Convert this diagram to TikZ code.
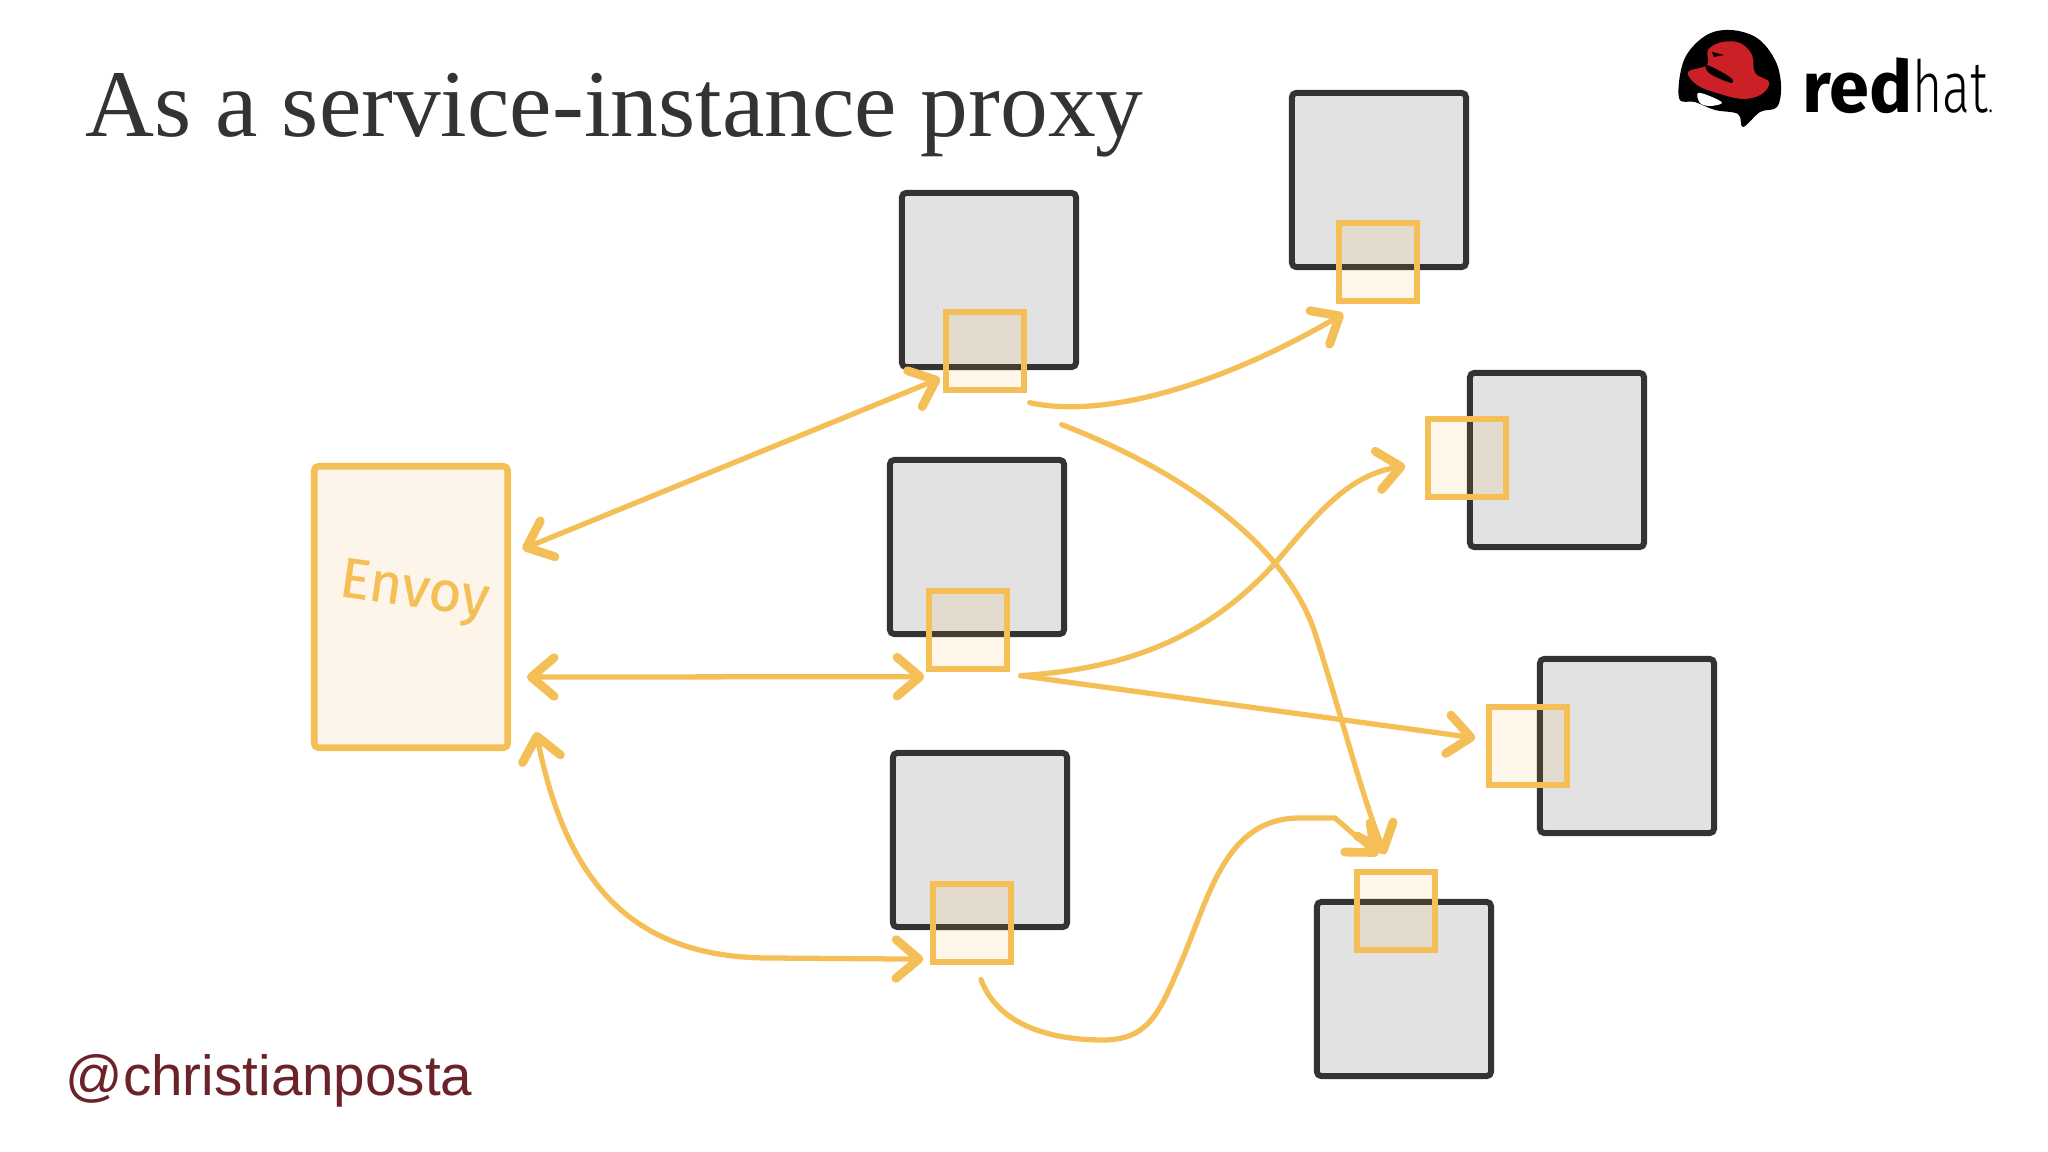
\documentclass[tikz,border=0pt]{standalone}
\usepackage{fontspec}
\usetikzlibrary{arrows.meta}
\setmainfont{Liberation Serif}
\newfontfamily\labelfont{Liberation Sans}
\newfontfamily\logofont{Fira Sans}
\newfontfamily\hatfont[FakeStretch=0.72]{Fira Sans Light}
\newfontfamily\envoyfont[FakeBold=0.6]{Fira Sans}
\definecolor{titlegray}{HTML}{333333}
\definecolor{handle}{HTML}{6B2228}
\definecolor{hatred}{HTML}{CC2027}
\definecolor{amber}{HTML}{F4BF57}
\definecolor{amberfill}{HTML}{FEF5EA}
\definecolor{svcgray}{HTML}{E2E2E2}
\definecolor{svcline}{HTML}{333333}
\tikzset{
  service/.style={draw=svcline,fill=svcgray,line width=1.7pt,rounded corners=1.2pt,minimum size=49.5pt,inner sep=0pt},
  proxy/.style={draw=amber,fill={rgb,255:red,245;green,165;blue,25},fill opacity=0.1,line width=1.7pt,minimum size=22pt,inner sep=0pt},
  flow/.style={draw=amber,line width=1.5pt,line cap=round,line join=round,>={Straight Barb[length=6.5pt,width=11pt,round,line width=2.5pt]}},
}
\begin{document}
\begin{tikzpicture}[x=0.01cm,y=-0.01cm]
\useasboundingbox (0,0) rectangle (2048,1152);
% heading and credit
\node[anchor=west,inner sep=0pt,text=titlegray,font=\fontsize{27.15}{30}\selectfont] (title) at (85,115) {As a service-instance proxy};
\node[anchor=west,inner sep=0pt,text=handle,font=\labelfont\fontsize{16.1}{20}\selectfont] (credit) at (65,1081) {@christianposta};
% logo
\fill[black] plot[smooth cycle,tension=0.6] coordinates {(1679,98) (1684,60) (1705,36) (1730,30) (1757,38) (1775,60) (1781,85) (1777,107) (1760,112) (1743,127) (1738,114) (1715,110) (1695,102)};
\fill[white] plot[smooth cycle,tension=0.6] coordinates {(1698,93) (1712,97) (1722,103) (1710,106) (1700,103)};
\fill[hatred] plot[smooth cycle,tension=0.6] coordinates {(1688,72) (1707,65) (1708,50) (1722,42) (1740,43) (1752,55) (1755,73) (1769,82) (1762,94) (1743,99) (1717,93) (1697,85)};
\fill[black] plot[smooth cycle,tension=0.6] coordinates {(1706,65) (1718,70) (1731,78) (1732,83) (1718,78) (1708,72)};
\fill[black] (1712,52) -- (1724,55) -- (1714,57) -- cycle;
\node[anchor=base west,inner sep=0pt,font=\fontsize{20.5}{24}\selectfont] (logotext) at (1802,113) {{\logofont\bfseries red}{\hatfont hat}{\hatfont\fontsize{9}{10}\selectfont .}};
% sidecar hosts
\node[service] (svcA) at (989,280) {};
\node[service] (svcB) at (1379,180) {};
\node[service] (svcC) at (977,547) {};
\node[service] (svcD) at (980,840) {};
\node[service] (svcE) at (1557,460) {};
\node[service] (svcF) at (1627,746) {};
\node[service] (svcG) at (1404,989) {};
% envoy
\node[draw=amber,fill=amberfill,line width=1.9pt,rounded corners=1.2pt,minimum width=55pt,minimum height=80pt,inner sep=0pt] (envoy) at (411,607) {};
\node[rotate=-8,text=amber,inner sep=0pt,font=\envoyfont\fontsize{16}{18}\selectfont] (envoylabel) at (414,593) {Envoy};
% proxies
\node[proxy] (proxyA) at (985,351) {};
\node[proxy] (proxyB) at (1378,262) {};
\node[proxy] (proxyC) at (968,630) {};
\node[proxy] (proxyD) at (972,923) {};
\node[proxy] (proxyE) at (1467,458) {};
\node[proxy] (proxyF) at (1528,746) {};
\node[proxy] (proxyG) at (1396,911) {};
% ingress
\draw[flow,<->,shorten <=3.5pt,shorten >=1pt] (envoy.28) -- (proxyA.212);
\draw[flow,<->,shorten <=4.5pt] (envoy.-35) -- ([shift={(-2,5)}]proxyC.south west);
\draw[flow,<->,shorten >=2pt] ([shift={(25,-19)}]envoy.south east) .. controls (566,880) and (630,958) .. (770,958) -- (proxyD.221);
% between proxies
\draw[flow,->] ([shift={(3,10)}]proxyA.south east) .. controls (1110,420) and (1230,380) .. ([shift={(7,10)}]proxyB.south west);
\coordinate (bendA) at (1313,627);
\draw[flow,->] ([shift={(35,32)}]proxyA.south east) .. controls (1180,470) and (1280,540) .. (bendA) .. controls (1340,710) and (1360,790) .. ([shift={(-11,-15)}]proxyG.north);
\coordinate (bendC) at (1278,560);
\draw[flow,->] ([shift={(11,4)}]proxyC.south east) .. controls (1140,668) and (1215,630) .. (bendC) .. controls (1320,510) and (1350,475) .. ([shift={(-20,8)}]proxyE.west);
\draw[flow,->] ([shift={(11,4)}]proxyC.south east) -- ([shift={(-11,-8)}]proxyF.west);
\coordinate (bendD) at (1103,1040);
\draw[flow,->] ([shift={(9,15)}]proxyD.south) .. controls (1000,1030) and (1060,1040) .. (bendD) .. controls (1150,1040) and (1160,1010) .. (1180,965) .. controls (1210,895) and (1225,818) .. (1300,818) -- (1335,818) -- ([shift={(-18,-14)}]proxyG.north);
\end{tikzpicture}
\end{document}
